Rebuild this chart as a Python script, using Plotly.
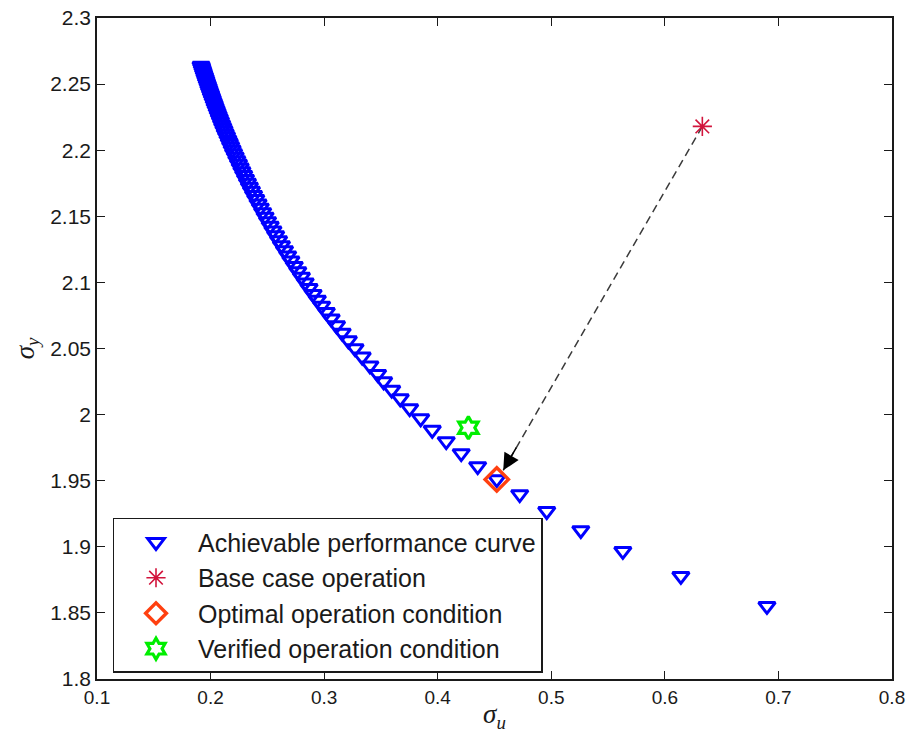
import plotly.graph_objects as go

# Achievable performance curve (sigma_u, sigma_y)
sigma_u_curve = [
    0.1916, 0.1922, 0.1927, 0.1933, 0.1939, 0.1945, 0.1951, 0.1958, 0.1964, 0.1971,
    0.1978, 0.1985, 0.1992, 0.2000, 0.2007, 0.2015, 0.2023, 0.2032, 0.2040, 0.2049,
    0.2058, 0.2067, 0.2077, 0.2087, 0.2097, 0.2107, 0.2118, 0.2129, 0.2141, 0.2153,
    0.2165, 0.2177, 0.2190, 0.2203, 0.2217, 0.2231, 0.2246, 0.2261, 0.2276, 0.2292,
    0.2308, 0.2325, 0.2342, 0.2360, 0.2379, 0.2398, 0.2418, 0.2438, 0.2459, 0.2480,
    0.2502, 0.2525, 0.2549, 0.2573, 0.2599, 0.2624, 0.2651, 0.2679, 0.2707, 0.2737,
    0.2768, 0.2800, 0.2833, 0.2867, 0.2903, 0.2940, 0.2978, 0.3019, 0.3062, 0.3109,
    0.3159, 0.3213, 0.3272, 0.3335, 0.3403, 0.3471,
    0.3524, 0.3595, 0.3670, 0.3753, 0.3850, 0.3952, 0.4075, 0.4207, 0.4352, 0.4520,
    0.4722, 0.4960, 0.5260, 0.5630, 0.6141, 0.6899,
]
sigma_y_curve = [
    2.2637, 2.2622, 2.2607, 2.2591, 2.2575, 2.2559, 2.2543, 2.2526, 2.2509, 2.2492,
    2.2474, 2.2456, 2.2438, 2.2420, 2.2401, 2.2382, 2.2362, 2.2343, 2.2322, 2.2302,
    2.2281, 2.2260, 2.2238, 2.2217, 2.2194, 2.2172, 2.2149, 2.2125, 2.2102, 2.2077,
    2.2053, 2.2028, 2.2002, 2.1976, 2.1950, 2.1923, 2.1896, 2.1868, 2.1840, 2.1811,
    2.1782, 2.1752, 2.1722, 2.1692, 2.1660, 2.1629, 2.1596, 2.1564, 2.1530, 2.1496,
    2.1462, 2.1427, 2.1391, 2.1355, 2.1318, 2.1280, 2.1242, 2.1203, 2.1164, 2.1124,
    2.1083, 2.1041, 2.0999, 2.0956, 2.0912, 2.0868, 2.0823, 2.0775, 2.0726, 2.0674,
    2.0619, 2.0561, 2.0501, 2.0438, 2.0371, 2.0307,
    2.0251, 2.0187, 2.0122, 2.0047, 1.9971, 1.9884, 1.9798, 1.9707, 1.9609, 1.9510,
    1.9397, 1.9269, 1.9125, 1.8967, 1.8778, 1.8551,
]

# Operating points
base_u, base_y = [0.633], [2.218]
optimal_u, optimal_y = [0.452], [1.951]
verified_u, verified_y = [0.427], [1.990]

# Where the dashed move from base case ends (arrow tip)
arrow_tip_u, arrow_tip_y = 0.4577, 1.9579

x_ticks = [0.1, 0.2, 0.3, 0.4, 0.5, 0.6, 0.7, 0.8]
y_ticks = [1.8, 1.85, 1.9, 1.95, 2.0, 2.05, 2.1, 2.15, 2.2, 2.25, 2.3]
x_ticktext = ["0.1", "0.2", "0.3", "0.4", "0.5", "0.6", "0.7", "0.8"]
y_ticktext = ["1.8", "1.85", "1.9", "1.95", "2", "2.05", "2.1", "2.15", "2.2", "2.25", "2.3"]

INK = "#1a1a1a"
SANS = "Arial, 'Liberation Sans', sans-serif"
SERIF = "'Liberation Serif', 'Times New Roman', serif"

fig = go.Figure()

# dashed path from base case to the optimum
fig.add_trace(go.Scatter(
    x=[base_u[0], arrow_tip_u], y=[base_y[0], arrow_tip_y],
    mode="lines", line=dict(color="#3a3a3a", width=1.5, dash="8px,5px"),
    showlegend=False, hoverinfo="skip",
))

fig.add_trace(go.Scatter(
    x=sigma_u_curve, y=sigma_y_curve, mode="markers",
    name="Achievable performance curve",
    marker=dict(symbol="triangle-down-open", size=14.5, color="#0000ff",
                line=dict(color="#0000ff", width=3)),
))
fig.add_trace(go.Scatter(
    x=base_u, y=base_y, mode="markers", name="Base case operation",
    marker=dict(symbol="asterisk-open", size=16, color="#d2143c",
                line=dict(color="#d2143c", width=1.6)),
))
fig.add_trace(go.Scatter(
    x=optimal_u, y=optimal_y, mode="markers", name="Optimal operation condition",
    marker=dict(symbol="diamond-open", size=18, color="#ff4010",
                line=dict(color="#ff4010", width=3.4)),
))
fig.add_trace(go.Scatter(
    x=verified_u, y=verified_y, mode="markers", name="Verified operation condition",
    marker=dict(symbol="hexagram-open", size=17, color="#00ee00",
                line=dict(color="#00ee00", width=3.2)),
))

# arrow head at the end of the dashed path
du = base_u[0] - arrow_tip_u
dy = base_y[0] - arrow_tip_y
fig.add_annotation(
    x=arrow_tip_u, y=arrow_tip_y, xref="x", yref="y",
    ax=arrow_tip_u + 0.07 * du, ay=arrow_tip_y + 0.07 * dy, axref="x", ayref="y",
    text="", showarrow=True, arrowhead=2, arrowsize=2.2, arrowwidth=1.5,
    arrowcolor="#000000", standoff=0,
)

fig.update_layout(
    width=916, height=733,
    margin=dict(l=97, r=24, t=18, b=54, pad=0),
    paper_bgcolor="white", plot_bgcolor="white",
    font=dict(family=SANS, color=INK),
    showlegend=True,
    legend=dict(
        x=0.0195, y=0.2436, xanchor="left", yanchor="top",
        bgcolor="white", bordercolor=INK, borderwidth=1.5,
        font=dict(size=25, color=INK), itemwidth=74, tracegroupgap=0,
        traceorder="normal",
    ),
)

fig.update_xaxes(
    range=[0.1, 0.8], tickvals=x_ticks, ticktext=x_ticktext,
    ticks="inside", ticklen=8, tickwidth=1.2, tickcolor=INK,
    showline=True, linecolor=INK, linewidth=1.5, mirror="ticks",
    showgrid=False, zeroline=False, automargin=False,
    tickfont=dict(size=19, color=INK),
    title=dict(text="<i>σ</i><sub><i>u</i></sub>",
               font=dict(size=27, family=SERIF, color=INK), standoff=2),
)
fig.update_yaxes(
    range=[1.8, 2.3], tickvals=y_ticks, ticktext=y_ticktext,
    ticks="inside", ticklen=8, tickwidth=1.2, tickcolor=INK,
    showline=True, linecolor=INK, linewidth=1.5, mirror="ticks",
    showgrid=False, zeroline=False, automargin=False,
    tickfont=dict(size=21, color=INK),
    title=dict(text="<i>σ</i><sub><i>y</i></sub>",
               font=dict(size=27, family=SERIF, color=INK), standoff=8),
)

fig.write_html("out.html")
